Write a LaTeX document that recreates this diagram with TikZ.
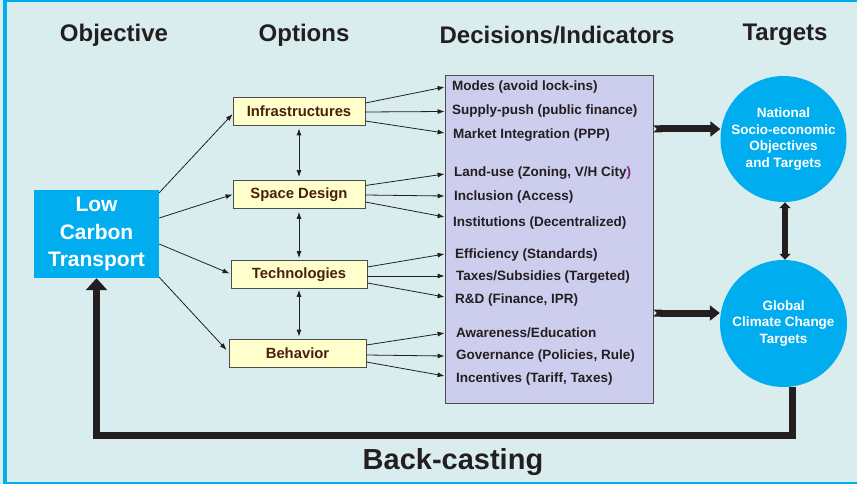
\documentclass[tikz,border=0pt]{standalone}
\usepackage{fontspec}
\setmainfont{Liberation Sans}
\usetikzlibrary{arrows.meta,calc}
\definecolor{bgc}{HTML}{DAEDEE}
\definecolor{framec}{HTML}{00AEEF}
\definecolor{cyanbox}{HTML}{00AEEF}
\definecolor{yelbox}{HTML}{FFFFCC}
\definecolor{lavbox}{HTML}{CDCDEE}
\definecolor{ink}{HTML}{231F20}
\definecolor{optink}{HTML}{4A1F10}
\definecolor{lupurple}{HTML}{7F1F8F}
\tikzset{
  header/.style={font=\fontsize{24}{28}\selectfont\bfseries, text=ink},
  optbox/.style={draw=ink!80, line width=0.8pt, fill=yelbox, minimum height=28pt, inner sep=0pt,
     font=\fontsize{14.8}{16}\selectfont\bfseries, text=optink},
  item/.style={anchor=west, inner sep=0pt, font=\fontsize{13.5}{15}\selectfont\bfseries, text=ink},
  thin/.style={draw=ink, line width=0.8pt, -{Latex[length=7pt,width=5pt]}},
  dthin/.style={draw=ink, line width=0.8pt, {Latex[length=7pt,width=5pt]}-{Latex[length=7pt,width=5pt]}},
  circ/.style={circle, fill=cyanbox, inner sep=0pt, text=white, align=center,
     font=\fontsize{13.5}{16.5}\selectfont\bfseries},
  bigarrow/.style={draw=ink, line width=7pt, {Triangle Cap[reversed]}-{Triangle[length=10pt,width=15pt]}},
}
\begin{document}
\begin{tikzpicture}[x=1pt,y=-1pt]
\useasboundingbox (0,0) rectangle (857,484);
\fill[bgc] (0,0) rectangle (857,484);
\draw[framec, line width=3.5pt] (5,0) -- (5,484);
\draw[framec, line width=2.5pt] (3,1.2) -- (857,1.2);
\draw[framec, line width=2.5pt] (3,482.8) -- (857,482.8);

% headers
\node[header] (h1) at (114,35) {Objective};
\node[header] (h2) at (304,35) {Options};
\node[header] (h3) at (557,35) {Decisions/Indicators};
\node[header] (h4) at (785,35) {Targets};

% objective box
\node[fill=cyanbox, minimum width=125pt, minimum height=88pt, inner sep=0pt, text=white, align=center,
  font=\fontsize{21}{27.5}\selectfont\bfseries] (lct) at (96.5,234) {Low\\Carbon\\Transport};

% option boxes
\node[optbox, minimum width=132pt] (inf) at (299,111) {Infrastructures};
\node[optbox, minimum width=132pt] (spd) at (299,194.5) {Space Design};
\node[optbox, minimum width=136pt] (tec) at (299,274.5) {Technologies};
\node[optbox, minimum width=137pt] (beh) at (297.5,353) {Behavior};

% decisions box
\node[draw=ink!80, line width=0.8pt, fill=lavbox, minimum width=208pt, minimum height=328pt, inner sep=0pt] (dec) at (549,239) {};

\node[item] (m1) at (452,87) {Modes (avoid lock-ins)};
\node[item] (m2) at (452,111.5) {Supply-push (public finance)};
\node[item] (m3) at (453,135) {Market Integration (PPP)};
\node[item] (m4) at (454,173) {Land-use (Zoning, V/H City\textcolor{lupurple}{)}};
\node[item] (m5) at (454,197) {Inclusion (Access)};
\node[item] (m6) at (453,223) {Institutions (Decentralized)};
\node[item] (m7) at (455,255) {Efficiency (Standards)};
\node[item] (m8) at (456,277) {Taxes/Subsidies (Targeted)};
\node[item] (m9) at (455,300) {R\&D (Finance, IPR)};
\node[item] (m10) at (456,333) {Awareness/Education};
\node[item] (m11) at (456,356) {Governance (Policies, Rule)};
\node[item] (m12) at (456,379) {Incentives (Tariff, Taxes)};

% target circles
\node[circ, minimum size=126pt] (nat) at (783.5,139) {National\\Socio-economic\\Objectives\\and Targets};
\node[circ, minimum size=127pt] (glo) at (783.5,323.5) {Global\\Climate Change\\Targets};

% objective -> options
\draw[thin] ([yshift=-3pt]lct.north east) -- ([yshift=-3pt]inf.west);
\draw[thin] ([yshift=16pt]lct.east) -- (spd.west);
\draw[thin] ([yshift=-10pt]lct.east) -- ([xshift=-1pt,yshift=1pt]tec.west);
\draw[thin] ([yshift=1pt]lct.south east) -- ([xshift=-2pt,yshift=3pt]beh.west);

% between options
\draw[dthin, shorten <=3pt, shorten >=3pt] (inf.south) -- (spd.north);
\draw[dthin, shorten <=3pt, shorten >=2pt] (spd.south) -- (tec.north);
\draw[dthin, shorten <=1pt, shorten >=2pt] (tec.south) -- ([xshift=1.5pt]beh.north);

% options -> decisions
\draw[thin] ([yshift=8pt]inf.east) -- (m1.west -| dec.west);
\draw[thin] ([yshift=-1pt]inf.east) -- (m2.west -| dec.west);
\draw[thin] ([yshift=-10pt]inf.east) -- ([yshift=2pt]m3.west -| dec.west);
\draw[thin] ([yshift=9pt]spd.east) -- ([yshift=-1pt]m4.west -| dec.west);
\draw[thin] ([yshift=-0.5pt]spd.east) -- ([yshift=1pt]m5.west -| dec.west);
\draw[thin] ([yshift=-7.5pt]spd.east) -- ([yshift=6pt]m6.west -| dec.west);
\draw[thin] ([yshift=7.5pt]tec.east) -- ([yshift=1pt]m7.west -| dec.west);
\draw[thin] ([yshift=-1.5pt]tec.east) -- ([yshift=1pt]m8.west -| dec.west);
\draw[thin] ([yshift=-8.5pt]tec.east) -- ([yshift=3pt]m9.west -| dec.west);
\draw[thin] ([yshift=8pt]beh.east) -- (m10.west -| dec.west);
\draw[thin] ([yshift=-2pt]beh.east) -- (m11.west -| dec.west);
\draw[thin] ([yshift=-9pt]beh.east) -- ([yshift=3pt]m12.west -| dec.west);

% decisions -> targets
\draw[bigarrow] (dec.east |- 0,129) -- (nat.west |- 0,129);
\draw[bigarrow] (dec.east |- 0,313) -- (glo.west |- 0,313);

% between targets
\draw[draw=ink, line width=5.5pt, {Triangle[length=6pt,width=11pt]}-{Triangle[length=6pt,width=11pt]}] ([xshift=1.5pt]nat.south) -- ([xshift=1.5pt]glo.north);

% back-casting loop
\coordinate (bcorner) at (96.5,435);
\draw[draw=ink, line width=7pt, line join=miter, -{Triangle[length=12pt,width=21pt]}]
  ([xshift=8.5pt]glo.south) |- (bcorner) -- (lct.south);
\node[font=\fontsize{29}{34}\selectfont\bfseries, text=ink] (bc) at (453,462) {Back-casting};
\end{tikzpicture}
\end{document}
